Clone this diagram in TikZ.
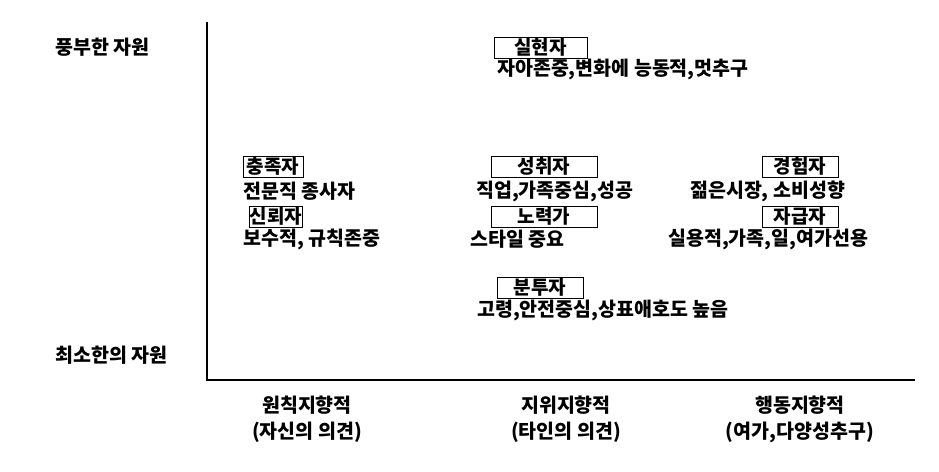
\documentclass[tikz,border=0pt]{standalone}
\usepackage{fontspec}
\setmainfont{Noto Sans CJK KR}
\usetikzlibrary{positioning}
\tikzset{
  typebox/.style={draw, thick, inner sep=0pt, minimum height=21pt, font=\fontsize{19}{19}\selectfont\bfseries},
  desc/.style={inner sep=0pt, anchor=west, font=\fontsize{19.5}{19.5}\selectfont\bfseries},
  axislabel/.style={inner sep=0pt, font=\fontsize{19.5}{19.5}\selectfont\bfseries}
}
\begin{document}
\begin{tikzpicture}[x=1pt,y=-1pt]
  \useasboundingbox[fill=white] (0,0) rectangle (939,471);

  % Axes
  \coordinate (top) at (207,22);
  \coordinate (origin) at (207,380);
  \coordinate (right) at (915,380);
  \draw[line width=2.5pt] (top) -- (origin) -- (right);

  % Resource labels
  \node[axislabel, anchor=west] (rich) at (55,47) {풍부한 자원};
  \node[axislabel, anchor=west] (poor) at (55,355) {최소한의 자원};

  % Orientation labels
  \node[axislabel] (ori1) at (307,405) {원칙지향적};
  \node[axislabel] (ori1b) at (307,432) {(자신의 의견)};
  \node[axislabel] (ori2) at (566,405) {지위지향적};
  \node[axislabel] (ori2b) at (566,432) {(타인의 의견)};
  \node[axislabel] (ori3) at (800,405) {행동지향적};
  \node[axislabel] (ori3b) at (800,432) {(여가,다양성추구)};

  % Types
  \node[typebox, minimum width=93pt] (actualizer) at (540.5,47.5) {실현자};
  \node[desc] (actualizerd) at (497,69) {자아존중,변화에 능동적,멋추구};

  \node[typebox, minimum width=60pt] (fulfilled) at (273,166.5) {충족자};
  \node[desc] (fulfilledd) at (243,191) {전문직 종사자};
  \node[typebox, minimum width=42pt] (believer) at (276,216.5) {신뢰자};
  \node[desc] (believerd) at (243,239) {보수적, 규칙존중};

  \node[typebox, minimum width=106pt] (achiever) at (544,166.5) {성취자};
  \node[desc] (achieverd) at (476,191) {직업,가족중심,성공};
  \node[typebox, minimum width=106pt] (striver) at (544,216.5) {노력가};
  \node[desc] (striverd) at (470,239) {스타일 중요};

  \node[typebox, minimum width=76pt] (experiencer) at (800,166.5) {경험자};
  \node[desc] (experiencerd) at (690,191) {젊은시장, 소비성향};
  \node[typebox, minimum width=76pt] (maker) at (800,216.5) {자급자};
  \node[desc] (makerd) at (668,239) {실용적,가족,일,여가선용};

  \node[typebox, minimum width=86pt] (survivor) at (540,287.5) {분투자};
  \node[desc] (survivord) at (477,310) {고령,안전중심,상표애호도 높음};
\end{tikzpicture}
\end{document}
